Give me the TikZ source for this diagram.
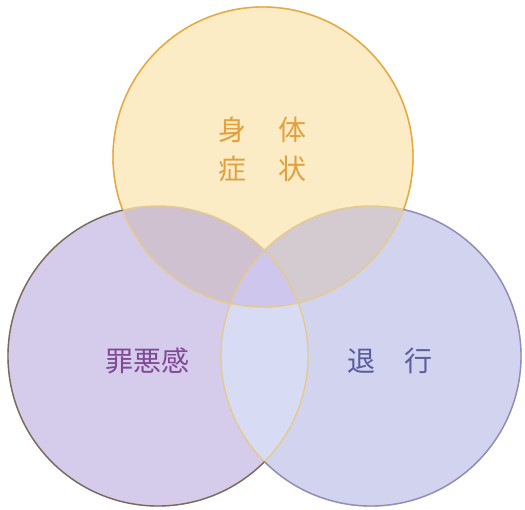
\documentclass[tikz,border=0pt]{standalone}
\usepackage{fontspec}
\newfontfamily\cjk{Noto Sans CJK JP}
\definecolor{topfill}{RGB}{252,236,198}
\definecolor{leftfill}{RGB}{213,203,235}
\definecolor{rightfill}{RGB}{210,212,239}
\definecolor{lrfill}{RGB}{215,219,244}
\definecolor{tlfill}{RGB}{207,193,208}
\definecolor{trfill}{RGB}{211,203,208}
\definecolor{cfill}{RGB}{207,198,237}
\definecolor{topline}{RGB}{232,170,64}
\definecolor{leftline}{RGB}{118,106,108}
\definecolor{rightline}{RGB}{140,140,202}
\definecolor{innerline}{RGB}{228,202,140}
\definecolor{toptext}{RGB}{226,160,62}
\definecolor{lefttext}{RGB}{128,72,150}
\definecolor{righttext}{RGB}{88,94,160}
\tikzset{
  ring/.style={line width=1.4pt},
  lbl/.style={font=\cjk\fontsize{28}{32}\selectfont, inner sep=0pt, anchor=center},
}
\newcommand{\cR}{150pt}
\begin{document}
\begin{tikzpicture}[x=1pt,y=-1pt]
\useasboundingbox (0,0) rectangle (525,510);
\fill[white] (0,0) rectangle (525,510);
\coordinate (T) at (263,157);
\coordinate (L) at (158,356);
\coordinate (R) at (371,356);
% fills
\fill[leftfill] (L) circle[radius=\cR];
\fill[rightfill] (R) circle[radius=\cR];
\begin{scope}
  \clip (L) circle[radius=\cR];
  \fill[lrfill] (R) circle[radius=\cR];
\end{scope}
\fill[topfill] (T) circle[radius=\cR];
\begin{scope}
  \clip (T) circle[radius=\cR];
  \fill[tlfill] (L) circle[radius=\cR];
  \fill[trfill] (R) circle[radius=\cR];
  \clip (L) circle[radius=\cR];
  \fill[cfill] (R) circle[radius=\cR];
\end{scope}
% inner outlines
\draw[ring, innerline] (T) circle[radius=\cR];
\draw[ring, innerline] (L) circle[radius=\cR];
\draw[ring, innerline] (R) circle[radius=\cR];
% outer outlines
\begin{scope}[even odd rule]
  \clip (-20,-20) rectangle (545,530) (L) circle[radius=\cR];
  \begin{scope}[even odd rule]
    \clip (-20,-20) rectangle (545,530) (R) circle[radius=\cR];
    \draw[ring, topline] (T) circle[radius=\cR];
  \end{scope}
\end{scope}
\begin{scope}[even odd rule]
  \clip (-20,-20) rectangle (545,530) (T) circle[radius=\cR];
  \begin{scope}[even odd rule]
    \clip (-20,-20) rectangle (545,530) (R) circle[radius=\cR];
    \draw[ring, leftline] (L) circle[radius=\cR];
  \end{scope}
\end{scope}
\begin{scope}[even odd rule]
  \clip (-20,-20) rectangle (545,530) (T) circle[radius=\cR];
  \begin{scope}[even odd rule]
    \clip (-20,-20) rectangle (545,530) (L) circle[radius=\cR];
    \draw[ring, rightline] (R) circle[radius=\cR];
  \end{scope}
\end{scope}
% labels
\node[lbl, toptext] (t1) at (232,130) {身};
\node[lbl, toptext] (t2) at (292,130) {体};
\node[lbl, toptext] (t3) at (232,169) {症};
\node[lbl, toptext] (t4) at (292,169) {状};
\node[lbl, lefttext] (l1) at (147,361) {罪悪感};
\node[lbl, righttext] (r1) at (361,361) {退};
\node[lbl, righttext] (r2) at (418,361) {行};
\end{tikzpicture}
\end{document}
